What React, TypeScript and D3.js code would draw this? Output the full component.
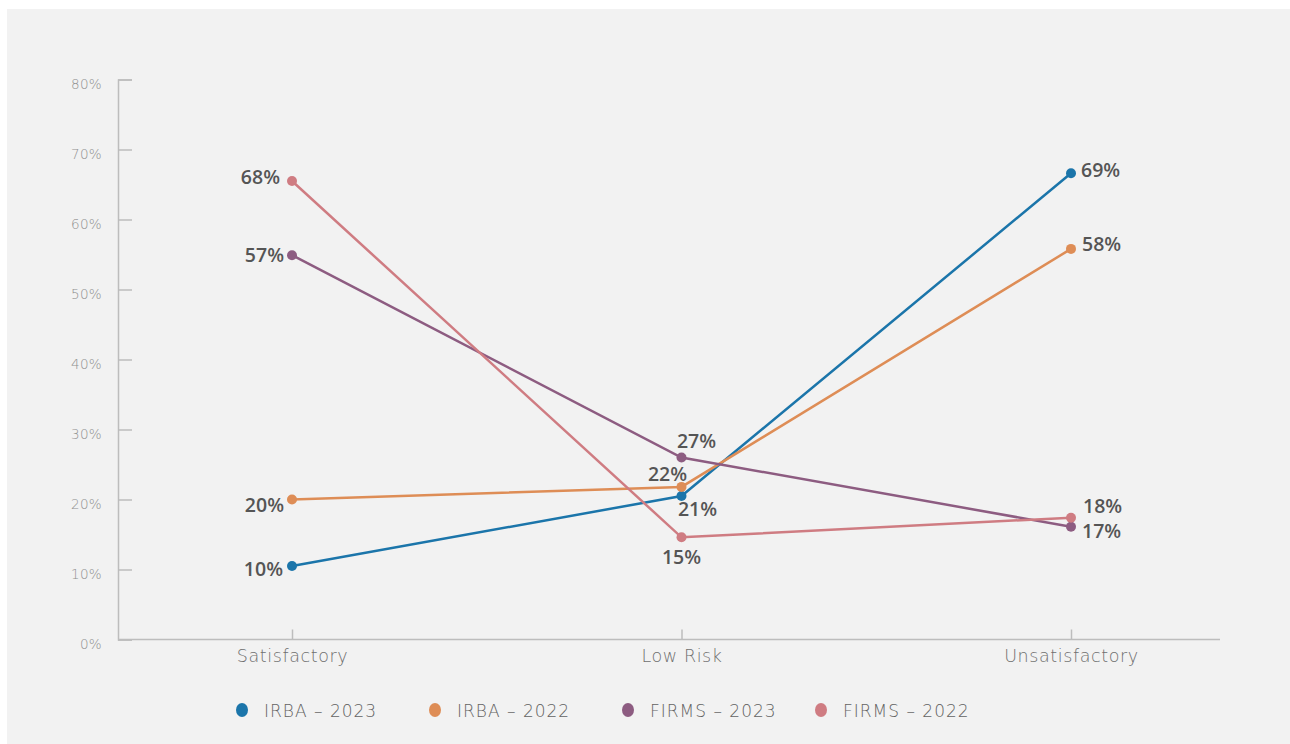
import React, { useEffect, useRef } from 'react';
import * as d3 from 'd3';

// categories and series
const categories = ['Satisfactory', 'Low Risk', 'Unsatisfactory'];
const seriesNames = ['IRBA – 2023', 'IRBA – 2022', 'FIRMS – 2023', 'FIRMS – 2022'];
const seriesColors = ['#1b75aa', '#de8d56', '#8d5c81', '#cf7c82'];

// plotted positions (percent)
const irba2023 = [10.5, 20.5, 66.6];
const irba2022 = [20.0, 21.8, 55.8];
const firms2023 = [54.9, 26.0, 16.1];
const firms2022 = [65.5, 14.6, 17.4];

// printed labels
const irba2023Labels = ['10%', '21%', '69%'];
const irba2022Labels = ['20%', '22%', '58%'];
const firms2023Labels = ['57%', '27%', '17%'];
const firms2022Labels = ['68%', '15%', '18%'];

const yTicks = [0, 10, 20, 30, 40, 50, 60, 70, 80];

// label placement per series / category: [dx, dy, anchor]
const labelPlace: [number, number, string][][] = [
  [[-9, 5, 'end'], [16, 15, 'middle'], [10, -2, 'start']],
  [[-8, 7, 'end'], [-14, -11, 'middle'], [11, -3, 'start']],
  [[-8, 2, 'end'], [15, -15, 'middle'], [11, 6, 'start']],
  [[-12, -2, 'end'], [0, 21, 'middle'], [12, -10, 'start']]
];

const W = 1290;
const H = 744;
const lightFont = '"DejaVu Sans", "Open Sans", sans-serif';
const labelFont = '"Open Sans", sans-serif';

const App = () => {
  const ref = useRef<SVGSVGElement>(null);

  useEffect(() => {
    const svg = d3.select(ref.current);
    svg.selectAll('*').remove();

    const values = [irba2023, irba2022, firms2023, firms2022];
    const labels = [irba2023Labels, irba2022Labels, firms2023Labels, firms2022Labels];

    const axisLeftX = 118;
    const axisRightX = 1220;

    const x = d3.scalePoint<string>().domain(categories).range([292, 1071]);
    const y = d3.scaleLinear().domain([0, 80]).range([639.5, 79.5]);

    svg.append('rect').attr('x', 7).attr('y', 9).attr('width', W - 7).attr('height', H - 9).attr('fill', '#f2f2f2');

    // y axis
    const yAxis = svg
      .append('g')
      .attr('transform', `translate(${axisLeftX},0)`)
      .call(
        d3
          .axisLeft(y)
          .tickValues(yTicks)
          .tickSize(-14)
          .tickPadding(16)
          .tickFormat((d) => `${d}%`)
      );
    yAxis.select('.domain').attr('stroke', '#bdbdbd').attr('stroke-width', 1.5);
    yAxis.selectAll('.tick line').attr('stroke', '#bdbdbd').attr('stroke-width', 1.5);
    yAxis
      .selectAll('.tick text')
      .attr('y', 5)
      .attr('fill', '#8f8f8f')
      .style('font-family', lightFont)
      .style('font-weight', 200)
      .style('letter-spacing', '0.3px')
      .style('font-size', '13.5px');

    // x axis
    const xAxis = svg
      .append('g')
      .attr('transform', `translate(0,${y(0)})`)
      .call(d3.axisBottom(x).tickSize(-10).tickPadding(10));
    xAxis.select('.domain').remove();
    xAxis
      .append('line')
      .attr('x1', axisLeftX)
      .attr('x2', axisRightX)
      .attr('stroke', '#bdbdbd')
      .attr('stroke-width', 1.5);
    xAxis.selectAll('.tick line').attr('stroke', '#bdbdbd').attr('stroke-width', 1.5);
    xAxis
      .selectAll('.tick text')
      .attr('fill', '#6f6f6f')
      .style('font-family', lightFont)
      .style('font-weight', 200)
      .style('letter-spacing', '0.6px')
      .style('font-size', '17.5px');

    const line = d3
      .line<number>()
      .x((_, i) => x(categories[i]) as number)
      .y((d) => y(d));

    const plot = svg.append('g');

    values.forEach((vals, s) => {
      plot
        .append('path')
        .datum(vals)
        .attr('d', line)
        .attr('fill', 'none')
        .attr('stroke', seriesColors[s])
        .attr('stroke-width', 2.5);
    });

    values.forEach((vals, s) => {
      plot
        .selectAll(`.dot-${s}`)
        .data(vals)
        .enter()
        .append('circle')
        .attr('cx', (_, i) => x(categories[i]) as number)
        .attr('cy', (d) => y(d))
        .attr('r', 5)
        .attr('fill', seriesColors[s]);
    });

    values.forEach((vals, s) => {
      plot
        .selectAll(`.lbl-${s}`)
        .data(vals)
        .enter()
        .append('text')
        .attr('x', (_, i) => (x(categories[i]) as number) + labelPlace[s][i][0])
        .attr('y', (d, i) => y(d) + labelPlace[s][i][1])
        .attr('text-anchor', (_, i) => labelPlace[s][i][2])
        .attr('dominant-baseline', 'middle')
        .attr('fill', '#555555')
        .style('font-family', labelFont)
        .style('font-weight', 600)
        .style('font-size', '19.5px')
        .text((_, i) => labels[s][i]);
    });

    // legend
    const legend = svg.append('g').attr('transform', 'translate(242,710)');
    const item = legend
      .selectAll('g')
      .data(seriesNames)
      .enter()
      .append('g')
      .attr('transform', (_, i) => `translate(${i * 193},0)`);
    item
      .append('ellipse')
      .attr('rx', 6)
      .attr('ry', 7)
      .attr('fill', (_, i) => seriesColors[i]);
    item
      .append('text')
      .attr('x', 22)
      .attr('y', 2)
      .attr('dominant-baseline', 'middle')
      .attr('fill', '#636363')
      .style('font-family', lightFont)
      .style('font-weight', 200)
      .style('letter-spacing', '1px')
      .style('font-size', '17px')
      .text((d) => d);
  }, []);

  return (
    <svg
      ref={ref}
      width={W}
      height={H}
      style={{ position: 'absolute', left: 0, top: 0, background: '#ffffff' }}
    />
  );
};

export default App;
